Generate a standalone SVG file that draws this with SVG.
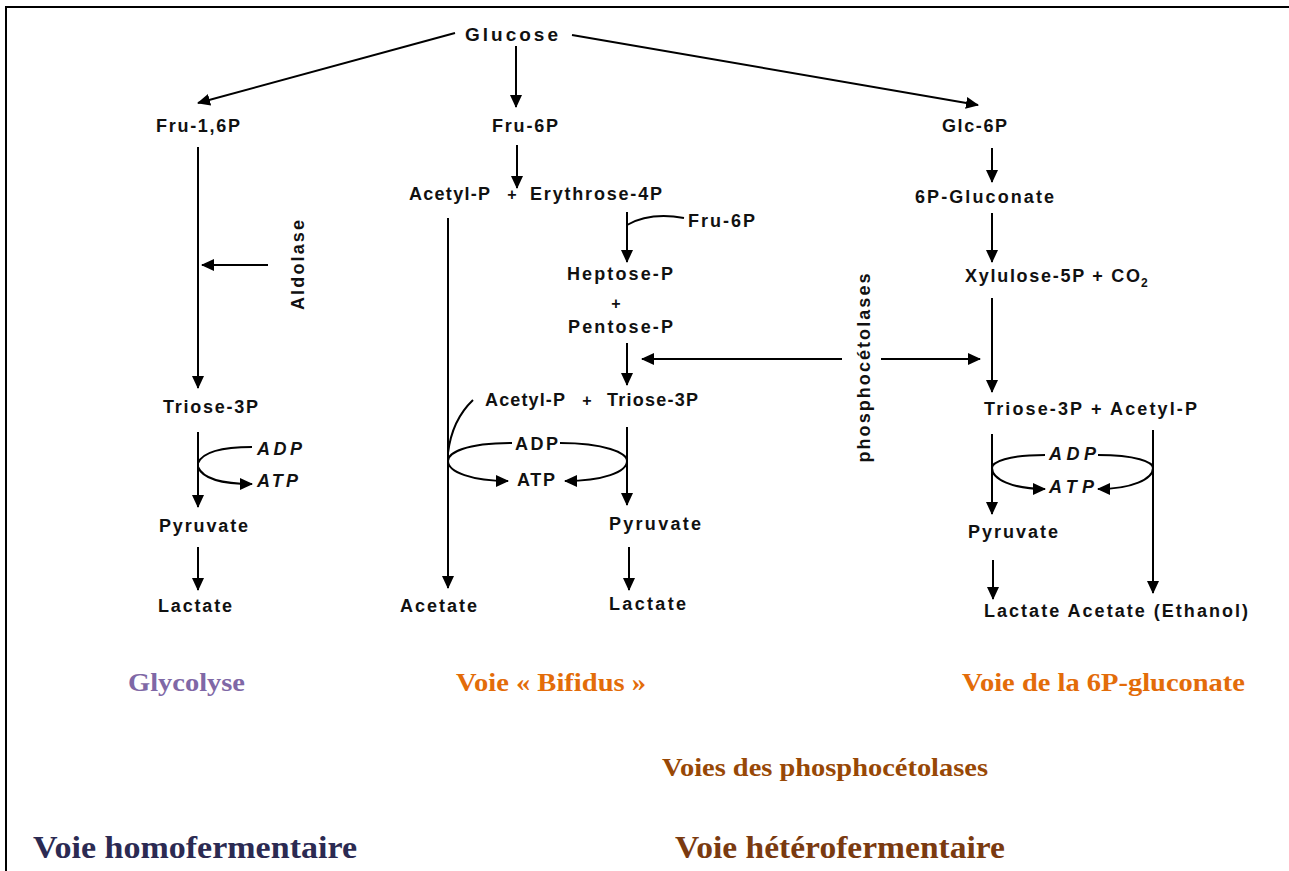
<svg xmlns="http://www.w3.org/2000/svg" width="1289" height="871" viewBox="0 0 1289 871">
<defs>
<marker id="ah" markerWidth="13" markerHeight="13" viewBox="0 0 13 13" refX="12" refY="6.5" orient="auto" markerUnits="userSpaceOnUse"><path d="M0,0.5 L13,6.5 L0,12.5 z" fill="#000"/></marker>
<style>
.t{font-family:"Liberation Sans",Arial,sans-serif;font-weight:bold;font-size:18px;fill:#111}
.g{font-size:19px}
.i{font-style:italic}
.p{font-size:16px}
.v{font-family:"Liberation Serif","Times New Roman",serif;font-weight:bold;font-size:26px}
.big{font-size:32px}
.c path{stroke:#000;stroke-width:2;fill:none}
.a{marker-end:url(#ah)}
</style>
</defs>
<rect width="1289" height="871" fill="#fff"/>
<g id="frame" stroke="#000" stroke-width="2"><line x1="6" y1="7" x2="1289" y2="7"/><line x1="6" y1="6" x2="6" y2="871"/></g>

<g class="c" id="connectors">
<path class="a" d="M455,33 L198,103"/>
<path class="a" d="M516,46 L516,107"/>
<path class="a" d="M572,35 L978,105"/>
<path class="a" d="M198,147 L198,388"/>
<path class="a" d="M268,265 L202,265"/>
<path class="a" d="M517,145 L517,188"/>
<path class="a" d="M448,218 L448,588"/>
<path class="a" d="M627,212 L627,262"/>
<path d="M627,225 Q650,212 684,218"/>
<path class="a" d="M627,343 L627,385"/>
<path class="a" d="M842,359 L642,359"/>
<path class="a" d="M881,359 L980,359"/>
<path class="a" d="M992,148 L992,182"/>
<path class="a" d="M992,213 L992,262"/>
<path class="a" d="M992,298 L992,392"/>
<path class="a" d="M198,432 L198,507"/>
<path d="M198,463 Q205,447 252,447"/>
<path class="a" d="M198,467 Q205,484 252,484"/>
<path class="a" d="M198,547 L198,590"/>
<path d="M473,400 Q452,420 448,453"/>
<path class="a" d="M512,443 C465,443 448,453 448,461 C448,472 472,481 508,481"/>
<path class="a" d="M560,443 C605,443 627,453 627,461 C627,472 603,481 565,481"/>
<path class="a" d="M627,427 L627,505"/>
<path class="a" d="M629,547 L629,590"/>
<path class="a" d="M992,434 L992,514"/>
<path class="a" d="M1153,430 L1153,593"/>
<path class="a" d="M1045,455 C1008,455 992,462 992,468 C992,479 1012,489 1045,489"/>
<path class="a" d="M1098,455 C1136,455 1153,462 1153,468 C1153,479 1132,489 1098,489"/>
<path class="a" d="M993,560 L993,599"/>
</g>

<g id="glucose"><text class="t g" x="465" y="41" textLength="93">Glucose</text></g>
<g id="fru16p"><text class="t" x="156" y="132" textLength="84">Fru-1,6P</text></g>
<g id="fru6p"><text class="t" x="492" y="132" textLength="66">Fru-6P</text></g>
<g id="glc6p"><text class="t" x="942" y="132" textLength="65">Glc-6P</text></g>
<g id="acetylp-erythrose"><text class="t" x="409" y="200" textLength="81">Acetyl-P</text><text class="t p" x="512" y="200" text-anchor="middle">+</text><text class="t" x="530" y="200" textLength="132">Erythrose-4P</text></g>
<g id="fru6p-side"><text class="t" x="688" y="227" textLength="67">Fru-6P</text></g>
<g id="gluconate"><text class="t" x="915" y="203" textLength="139">6P-Gluconate</text></g>
<g id="heptose-pentose"><text class="t" x="567" y="280" textLength="106">Heptose-P</text><text class="t p" x="616" y="309" text-anchor="middle">+</text><text class="t" x="568" y="333" textLength="105">Pentose-P</text></g>
<g id="xylulose"><text class="t" x="965" y="282" textLength="175">Xylulose-5P + CO</text><text class="t" x="1141" y="287" style="font-size:12px">2</text></g>
<g id="aldolase"><text class="t" x="298" y="265" transform="rotate(-90 298 265)" text-anchor="middle" dy="6" textLength="90">Aldolase</text></g>
<g id="phosphocetolases"><text class="t" x="864" y="368" transform="rotate(-90 864 368)" text-anchor="middle" dy="6" textLength="189">phosphocétolases</text></g>

<g id="triose-left"><text class="t" x="163" y="413" textLength="95">Triose-3P</text></g>
<g id="adp-atp-left"><text class="t i" x="257" y="455" textLength="45">ADP</text><text class="t i" x="257" y="487" textLength="41">ATP</text></g>
<g id="pyruvate-left"><text class="t" x="159" y="532" textLength="89">Pyruvate</text></g>
<g id="lactate-left"><text class="t" x="158" y="612" textLength="74">Lactate</text></g>

<g id="acetylp-triose-mid"><text class="t" x="485" y="406" textLength="80">Acetyl-P</text><text class="t p" x="587" y="406" text-anchor="middle">+</text><text class="t" x="607" y="406" textLength="91">Triose-3P</text></g>
<g id="adp-atp-mid"><text class="t" x="515" y="450" textLength="43">ADP</text><text class="t" x="517" y="486" textLength="38">ATP</text></g>
<g id="pyruvate-mid"><text class="t" x="609" y="530" textLength="92">Pyruvate</text></g>
<g id="lactate-mid"><text class="t" x="609" y="610" textLength="77">Lactate</text></g>
<g id="acetate-mid"><text class="t" x="400" y="612" textLength="77">Acetate</text></g>

<g id="triose-acetyl-right"><text class="t" x="984" y="415" textLength="213">Triose-3P + Acetyl-P</text></g>
<g id="adp-atp-right"><text class="t i" x="1049" y="460" textLength="47">ADP</text><text class="t i" x="1049" y="493" textLength="45">ATP</text></g>
<g id="pyruvate-right"><text class="t" x="968" y="538" textLength="90">Pyruvate</text></g>
<g id="products-right"><text class="t" x="984" y="617" textLength="264">Lactate Acetate (Ethanol)</text></g>

<g id="labels">
<text class="v" x="128" y="691" fill="#7f68a6" textLength="117" lengthAdjust="spacingAndGlyphs">Glycolyse</text>
<text class="v" x="456" y="691" fill="#e36c09" textLength="190" lengthAdjust="spacingAndGlyphs">Voie « Bifidus »</text>
<text class="v" x="962" y="691" fill="#e36c09" textLength="283" lengthAdjust="spacingAndGlyphs">Voie de la 6P-gluconate</text>
<text class="v" x="662" y="776" fill="#984806" textLength="326" lengthAdjust="spacingAndGlyphs">Voies des phosphocétolases</text>
<text class="v big" x="33" y="858" fill="#2b2a52" textLength="324" lengthAdjust="spacingAndGlyphs">Voie homofermentaire</text>
<text class="v big" x="675" y="858" fill="#7a3a10" textLength="330" lengthAdjust="spacingAndGlyphs">Voie hétérofermentaire</text>
</g>
</svg>
